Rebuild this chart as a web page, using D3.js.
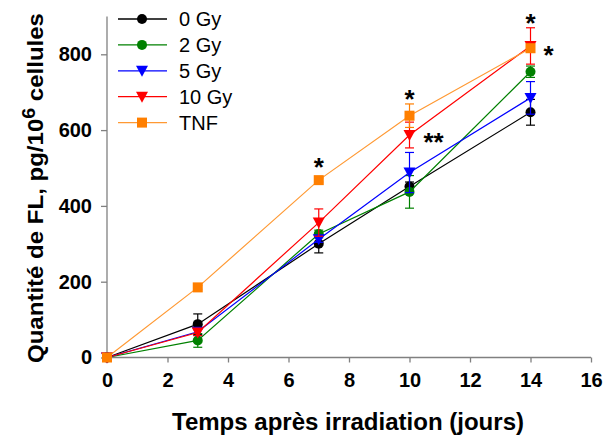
<!DOCTYPE html>
<html><head><meta charset="utf-8">
<script src="https://cdn.jsdelivr.net/npm/d3@7"></script>
<style>body{margin:0;background:#fff}text{font-family:Arial,"Liberation Sans",sans-serif}</style>
</head><body><svg id="c" width="604" height="436"></svg>
<script>
const days = [0, 3, 7, 10, 14];
const seriesNames = ["0 Gy", "2 Gy", "5 Gy", "10 Gy", "TNF"];
const val0 = [0, 88, 300, 451, 647];
const err0 = [0, 27, 24, 12, 34];
const val2 = [0, 45, 326, 437, 754];
const err2 = [0, 18, 10, 43, 15];
const val5 = [0, 68, 312, 488, 685];
const err5 = [0, 10, 8, 53, 43];
const val10 = [0, 66, 356, 587, 822];
const err10 = [0, 8, 36, 34, 48];
const valTNF = [0, 185, 468, 638, 816];
const errTNF = [0, 5, 5, 31, 10];
const xTicks = [0, 2, 4, 6, 8, 10, 12, 14, 16];
const yTicks = [0, 200, 400, 600, 800];
const stars = [{x:7, y:468, t:"*", dx:0, dy:-16}, {x:10, y:638, t:"*", dx:0, dy:-20},
  {x:10, y:587, t:"**", dx:24, dy:4}, {x:14, y:822, t:"*", dx:0, dy:-26}, {x:14, y:816, t:"*", dx:18, dy:4}];

const colors = ["#000000", "#008000", "#0000ff", "#ff0000", "#ff7f00"];
const lineColors = ["#000000", "#008000", "#0000ff", "#ff0000", "#ff9933"];
const shapes = ["circle", "circle", "tri", "tri", "square"];
const vals = [val0, val2, val5, val10, valTNF];
const errs = [err0, err2, err5, err10, errTNF];

const svg = d3.select("#c");
const x = d3.scaleLinear().domain([0, 16]).range([107, 591]);
const y = d3.scaleLinear().domain([0, 900]).range([357.5, 16.4]);

// axes
const gx = svg.append("g").attr("transform", "translate(0,357.5)")
  .call(d3.axisBottom(x).tickValues(xTicks).tickSize(5).tickPadding(10));
const gy = svg.append("g").attr("transform", "translate(107,0)")
  .call(d3.axisLeft(y).tickValues(yTicks).tickSize(6).tickPadding(9));
[gx, gy].forEach(g => {
  g.selectAll("path,line").attr("stroke", "#808080").attr("stroke-width", 1.3);
  g.selectAll("text").attr("font-size", 20).attr("font-weight", "bold").attr("fill", "#000");
});
gx.select(".domain").attr("d", `M${x(0)},0H${x(16)}`);
gy.select(".domain").attr("d", `M0,${y(900)}V${y(0)}`);

svg.append("text").attr("x", 348).attr("y", 430).attr("text-anchor", "middle")
  .attr("font-size", 23).attr("font-weight", "bold")
  .attr("textLength", 352).attr("lengthAdjust", "spacingAndGlyphs")
  .text("Temps après irradiation (jours)");
const yl = svg.append("text").attr("transform", "translate(43,188) rotate(-90)")
  .attr("text-anchor", "middle").attr("font-size", 22).attr("font-weight", "bold")
  .attr("textLength", 350).attr("lengthAdjust", "spacingAndGlyphs");
yl.append("tspan").text("Quantité de FL, pg/10");
yl.append("tspan").attr("dy", -8).attr("font-size", 18).text("6");
yl.append("tspan").attr("dy", 8).text(" cellules");

function marker(g, shape, cx, cy, col) {
  if (shape === "circle") g.append("circle").attr("cx", cx).attr("cy", cy).attr("r", 5).attr("fill", col);
  else if (shape === "square") g.append("rect").attr("x", cx - 5).attr("y", cy - 5).attr("width", 10).attr("height", 10).attr("fill", col);
  else g.append("path").attr("d", `M${cx - 6},${cy - 5}L${cx + 6},${cy - 5}L${cx},${cy + 6}Z`).attr("fill", col);
}

const line = d3.line().x((d, i) => x(days[i])).y(d => y(d));
vals.forEach((v, s) => {
  const g = svg.append("g");
  g.append("path").attr("d", line(v)).attr("fill", "none").attr("stroke", lineColors[s]).attr("stroke-width", 1.2);
  v.forEach((d, i) => {
    const e = errs[s][i];
    if (e > 0) {
      const cx = x(days[i]);
      g.append("line").attr("x1", cx).attr("x2", cx).attr("y1", y(d - e)).attr("y2", y(d + e)).attr("stroke", colors[s]).attr("stroke-width", 1.2);
      [d - e, d + e].forEach(t => g.append("line").attr("x1", cx - 4.5).attr("x2", cx + 4.5).attr("y1", y(t)).attr("y2", y(t)).attr("stroke", colors[s]).attr("stroke-width", 1.2));
    }
  });
  v.forEach((d, i) => marker(g, shapes[s], x(days[i]), y(d), colors[s]));
});

stars.forEach(s => svg.append("text").attr("x", x(s.x) + s.dx).attr("y", y(s.y) + s.dy + 12)
  .attr("text-anchor", "middle").attr("font-size", 26).attr("font-weight", "bold").text(s.t));

// legend
seriesNames.forEach((n, i) => {
  const ly = 19 + i * 25.9;
  const g = svg.append("g");
  g.append("line").attr("x1", 118).attr("x2", 167).attr("y1", ly).attr("y2", ly).attr("stroke", lineColors[i]).attr("stroke-width", 1.3);
  marker(g, shapes[i], 142, ly, colors[i]);
  g.append("text").attr("x", 179).attr("y", ly + 7).attr("font-size", 20).text(n);
});
</script></body></html>
